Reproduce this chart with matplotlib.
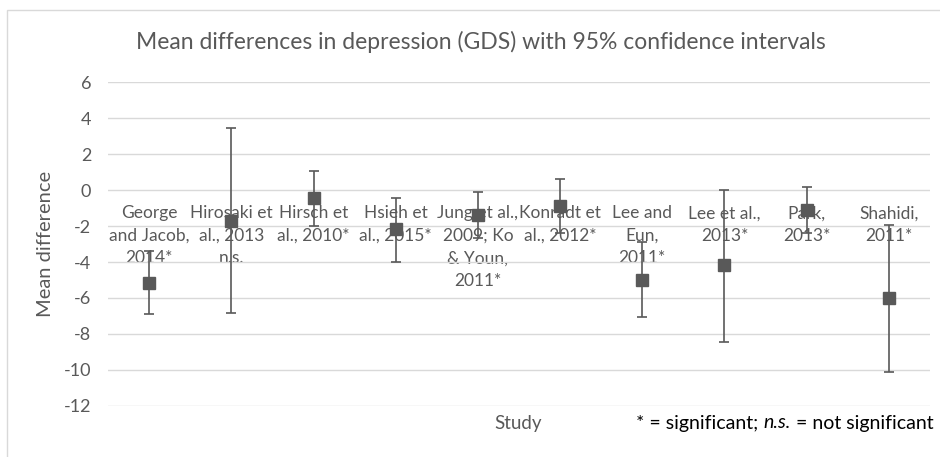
import matplotlib
matplotlib.use("Agg")
import matplotlib.pyplot as plt
from matplotlib.patches import Rectangle

# Data
studies = [
    "George\nand Jacob,\n2014*",
    "Hirosaki et\nal., 2013\nn.s.",
    "Hirsch et\nal., 2010*",
    "Hsieh et\nal., 2015*",
    "Jung et al.,\n2009; Ko\n& Youn,\n2011*",
    "Konradt et\nal., 2012*",
    "Lee and\nEun,\n2011*",
    "Lee et al.,\n2013*",
    "Park,\n2013*",
    "Shahidi,\n2011*",
]
mean_diff = [-5.15, -1.72, -0.46, -2.19, -1.39, -0.89, -5.0, -4.19, -1.11, -6.02]
ci_upper = [-3.37, 3.42, 1.07, -0.43, -0.13, 0.63, -2.87, 0.02, 0.18, -1.94]
ci_lower = [-6.9, -6.83, -2.0, -4.02, -2.65, -2.41, -7.07, -8.43, -2.4, -10.09]
yticks = list(range(-12, 7, 2))

plt.rcParams['font.family'] = ['Lato', 'DejaVu Sans']

grey = '#595959'
W, H = 940, 457
fig = plt.figure(figsize=(W / 100, H / 100), dpi=100)

# chart border (runs past the right and bottom edges, like the crop)
fig.patches.append(Rectangle((7 / W, -0.05), 1.0, 1 - 10 / H + 0.05, transform=fig.transFigure,
                             fill=False, edgecolor='#d9d9d9', linewidth=1))

ax = fig.add_axes([108 / W, 1 - 406 / H, 822 / W, 324 / H])
x = list(range(len(studies)))
err_lo = [m - lo for m, lo in zip(mean_diff, ci_lower)]
err_hi = [hi - m for m, hi in zip(mean_diff, ci_upper)]
ax.errorbar(x, mean_diff, yerr=[err_lo, err_hi], fmt='s', color=grey, ecolor=grey,
            markersize=8.5, elinewidth=1.2, capsize=3.8, capthick=1.2, zorder=3)

ax.set_xlim(-0.5, len(studies) - 0.5)
ax.set_ylim(-12, 6)
ax.set_yticks(yticks)
ax.set_yticklabels([str(t) for t in yticks])
ax.grid(axis='y', color='#d9d9d9', linewidth=1)
ax.set_axisbelow(True)
for s in ax.spines.values():
    s.set_visible(False)
ax.spines['bottom'].set_position(('data', 0))
ax.tick_params(axis='y', length=0, pad=12, labelsize=13, labelcolor=grey)
ax.tick_params(axis='x', length=0, pad=11, labelsize=12.5, labelcolor=grey)
ax.set_xticks(x)
ax.set_xticklabels(studies, linespacing=1.5)

ax.set_ylabel('Mean difference', fontsize=14.5, color=grey, labelpad=7)

fig.text(0.512, 1 - 42 / H, 'Mean differences in depression (GDS) with 95% confidence intervals',
         ha='center', va='center', fontsize=16.5, color=grey)
fig.text(518 / W, 1 - 423 / H, 'Study', ha='center', va='center', fontsize=13.5, color=grey)

# footnote with italic "n.s." built from three pieces
fig.canvas.draw()
renderer = fig.canvas.get_renderer()
parts = [('* = significant; ', 'normal'), ('n.s.', 'italic'), (' = not significant', 'normal')]
xpos = 636
for txt, style in parts:
    t = fig.text(xpos / W, 1 - 423 / H, txt, ha='left', va='center', fontsize=14,
                 color='black', fontstyle=style)
    xpos += t.get_window_extent(renderer).width

fig.savefig('out.png', dpi=100)
